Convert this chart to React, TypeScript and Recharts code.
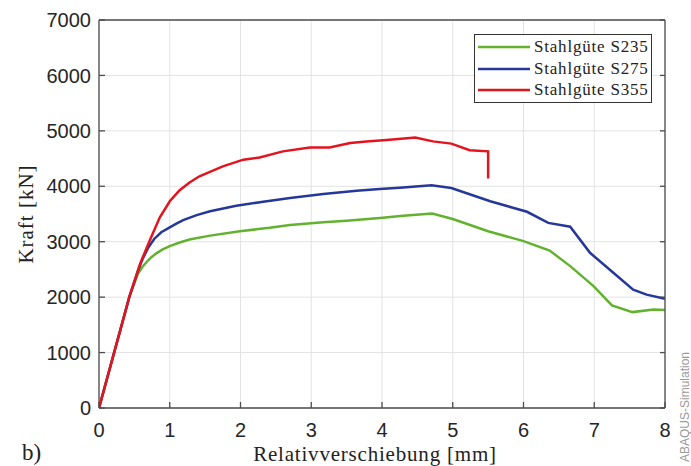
import React from 'react';
import { CartesianGrid, Label, Legend, Line, LineChart, XAxis, YAxis } from 'recharts';

type Pt = { d: number; f: number };

const xTicks = [0, 1, 2, 3, 4, 5, 6, 7, 8];
const yTicks = [0, 1000, 2000, 3000, 4000, 5000, 6000, 7000];

// Relativverschiebung d [mm] / Kraft f [kN]
const s235: Pt[] = [
  { d: 0, f: 0 }, { d: 0.43, f: 2010 }, { d: 0.55, f: 2420 }, { d: 0.61, f: 2540 },
  { d: 0.67, f: 2630 }, { d: 0.74, f: 2720 }, { d: 0.81, f: 2790 }, { d: 0.9, f: 2860 },
  { d: 1.0, f: 2920 }, { d: 1.14, f: 2985 }, { d: 1.28, f: 3040 }, { d: 1.57, f: 3110 },
  { d: 1.99, f: 3190 }, { d: 2.41, f: 3250 }, { d: 2.7, f: 3300 }, { d: 3.17, f: 3350 },
  { d: 3.5, f: 3380 }, { d: 3.97, f: 3430 }, { d: 4.3, f: 3470 }, { d: 4.71, f: 3510 },
  { d: 5.0, f: 3410 }, { d: 5.5, f: 3190 }, { d: 6.0, f: 3010 }, { d: 6.37, f: 2840 },
  { d: 6.66, f: 2560 }, { d: 6.99, f: 2200 }, { d: 7.25, f: 1850 }, { d: 7.54, f: 1730 },
  { d: 7.84, f: 1775 }, { d: 8.0, f: 1770 },
];

const s275: Pt[] = [
  { d: 0, f: 0 }, { d: 0.43, f: 2010 }, { d: 0.55, f: 2470 }, { d: 0.62, f: 2700 },
  { d: 0.7, f: 2900 }, { d: 0.78, f: 3050 }, { d: 0.88, f: 3170 }, { d: 1.0, f: 3260 },
  { d: 1.1, f: 3330 }, { d: 1.19, f: 3390 }, { d: 1.38, f: 3480 }, { d: 1.57, f: 3550 },
  { d: 1.94, f: 3650 }, { d: 2.32, f: 3720 }, { d: 2.7, f: 3790 }, { d: 3.17, f: 3860 },
  { d: 3.64, f: 3920 }, { d: 3.97, f: 3950 }, { d: 4.3, f: 3980 }, { d: 4.7, f: 4020 },
  { d: 4.98, f: 3970 }, { d: 5.53, f: 3730 }, { d: 6.05, f: 3540 }, { d: 6.35, f: 3340 },
  { d: 6.66, f: 3270 }, { d: 6.94, f: 2800 }, { d: 7.27, f: 2440 }, { d: 7.55, f: 2135 },
  { d: 7.74, f: 2045 }, { d: 8.0, f: 1970 },
];

const s355: Pt[] = [
  { d: 0, f: 0 }, { d: 0.43, f: 2010 }, { d: 0.58, f: 2600 }, { d: 0.72, f: 3030 },
  { d: 0.86, f: 3440 }, { d: 1.0, f: 3730 }, { d: 1.14, f: 3930 }, { d: 1.28, f: 4070 },
  { d: 1.42, f: 4180 }, { d: 1.75, f: 4360 }, { d: 2.04, f: 4480 }, { d: 2.27, f: 4520 },
  { d: 2.6, f: 4630 }, { d: 2.98, f: 4700 }, { d: 3.26, f: 4700 }, { d: 3.55, f: 4780 },
  { d: 3.78, f: 4810 }, { d: 4.11, f: 4840 }, { d: 4.47, f: 4880 }, { d: 4.72, f: 4810 },
  { d: 4.98, f: 4770 }, { d: 5.24, f: 4650 }, { d: 5.5, f: 4630 }, { d: 5.5, f: 4140 },
];

const serif = '"Liberation Serif", "DejaVu Serif", serif';
const sans = '"Liberation Sans", Arial, sans-serif';
const frame = '#4d4d4d';
const tickStyle = { fill: '#262626', fontSize: 20, fontFamily: sans };

const LegendBox = ({ payload }: any) => (
  <div
    style={{
      boxSizing: 'border-box',
      width: 178,
      height: 69,
      border: '1.5px solid #333',
      background: '#fff',
      display: 'flex',
      flexDirection: 'column',
      justifyContent: 'center',
      paddingLeft: 3,
    }}
  >
    {(payload || []).map((p: any) => (
      <div key={p.value} style={{ display: 'flex', alignItems: 'center', height: 21.5 }}>
        <svg width={52} height={6} style={{ marginRight: 4 }}>
          <line x1={0} y1={3} x2={52} y2={3} stroke={p.color} strokeWidth={2.5} />
        </svg>
        <span style={{ fontFamily: serif, fontSize: 17, letterSpacing: 0.8, color: '#222' }}>{p.value}</span>
      </div>
    ))}
  </div>
);

export default function App() {
  return (
    <div style={{ position: 'absolute', left: 0, top: 0, width: 691, height: 466, background: '#fff', overflow: 'hidden' }}>
      <LineChart width={691} height={466} margin={{ top: 19, right: 25, bottom: 28, left: 39 }}>
        <CartesianGrid stroke="#e3e3e3" strokeWidth={1} />
        <XAxis
          type="number"
          dataKey="d"
          domain={[0, 8]}
          ticks={xTicks}
          height={30}
          tickSize={-6}
          tickMargin={21}
          stroke={frame}
          strokeWidth={1.3}
          tick={tickStyle}
          allowDataOverflow
        >
          <Label
            value="Relativverschiebung [mm]"
            position="insideBottom"
            offset={-23}
            dx={-7}
            style={{ fontFamily: serif, fontSize: 21, letterSpacing: 0.8, fill: '#222' }}
          />
        </XAxis>
        <XAxis
          xAxisId="top"
          orientation="top"
          type="number"
          domain={[0, 8]}
          ticks={xTicks}
          height={1}
          tickSize={-5}
          tickFormatter={() => ''}
          stroke={frame}
          strokeWidth={1.3}
          allowDataOverflow
        />
        <YAxis
          type="number"
          domain={[0, 7000]}
          ticks={yTicks}
          width={60}
          tickSize={-6}
          tickMargin={14}
          stroke={frame}
          strokeWidth={1.3}
          tick={tickStyle}
          allowDataOverflow
        >
          <Label
            value="Kraft [kN]"
            angle={-90}
            position="insideLeft"
            offset={-13}
            textAnchor="middle"
            style={{ fontFamily: serif, fontSize: 21, letterSpacing: 1, fill: '#222' }}
          />
        </YAxis>
        <YAxis
          yAxisId="right"
          orientation="right"
          type="number"
          domain={[0, 7000]}
          ticks={yTicks}
          width={1}
          tickSize={-5}
          tickFormatter={() => ''}
          stroke={frame}
          strokeWidth={1.3}
          allowDataOverflow
        />
        <Legend
          layout="vertical"
          align="center"
          verticalAlign="middle"
          content={<LegendBox />}
          wrapperStyle={{ position: 'absolute', left: 474, top: 34, width: 178, height: 69 }}
        />
        <Line data={s235} dataKey="f" name="Stahlgüte S235" type="linear" stroke="#63b22f" strokeWidth={2.5} dot={false} isAnimationActive={false} />
        <Line data={s275} dataKey="f" name="Stahlgüte S275" type="linear" stroke="#25389a" strokeWidth={2.5} dot={false} isAnimationActive={false} />
        <Line data={s355} dataKey="f" name="Stahlgüte S355" type="linear" stroke="#e4141e" strokeWidth={2.5} dot={false} isAnimationActive={false} />
      </LineChart>
      <svg width={691} height={466} style={{ position: 'absolute', left: 0, top: 0, pointerEvents: 'none' }}>
        <text x={22} y={460} fontFamily={serif} fontSize={23} fill="#222">b)</text>
        <text x={689} y={352} transform="rotate(-90 689 352)" textAnchor="end" fontFamily={sans} fontSize={12} fill="#9a9a9a">
          ABAQUS-Simulation
        </text>
      </svg>
    </div>
  );
}
